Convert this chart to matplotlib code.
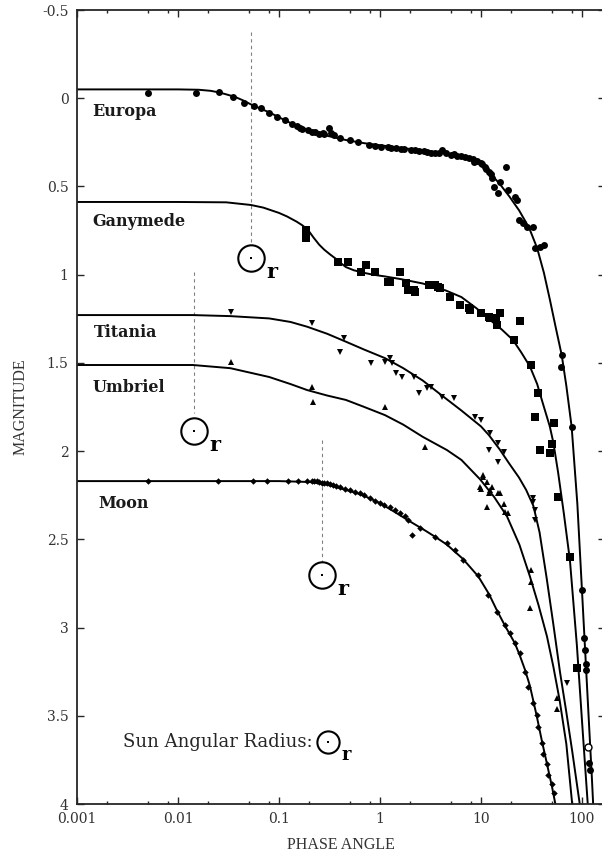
import matplotlib
matplotlib.use("Agg")
import matplotlib.pyplot as plt
from matplotlib.ticker import LogLocator, MultipleLocator, FuncFormatter, NullFormatter

plt.rcParams["axes.unicode_minus"] = False

# ---- fitted curves (phase angle, magnitude) ----
europa_fit_phase = [0.001, 0.01, 0.016, 0.021, 0.0255, 0.03, 0.0365, 0.044, 0.0527, 0.065, 0.08, 0.1,
                    0.135, 0.19, 0.25, 0.3, 0.46, 0.7, 1.12, 2.0, 2.65, 4.0, 6.4, 8.0, 9.0, 10.9, 12.3,
                    15.3, 19.0, 23.8, 30.0, 36.0, 42.0, 48.2, 55.0, 63.0, 70.0, 79.0, 90.0, 100.0,
                    105.0, 110.0, 115.0, 120.0, 125.0, 129.0]
europa_fit_mag = [-0.05, -0.05, -0.048, -0.042, -0.033, -0.022, -0.008, 0.012, 0.035, 0.058, 0.08, 0.108,
                  0.145, 0.178, 0.2, 0.213, 0.237, 0.255, 0.27, 0.288, 0.295, 0.31, 0.333, 0.348, 0.36,
                  0.39, 0.425, 0.485, 0.555, 0.635, 0.735, 0.85, 0.99, 1.144, 1.3, 1.456, 1.63, 1.862,
                  2.3, 2.79, 3.02, 3.24, 3.45, 3.65, 3.84, 4.0]

ganymede_fit_phase = [0.001, 0.01, 0.03, 0.0527, 0.07, 0.1, 0.12, 0.15, 0.17, 0.194, 0.22, 0.25, 0.28,
                      0.32, 0.358, 0.4, 0.46, 0.55, 0.7, 0.85, 1.12, 1.6, 2.65, 4.5, 6.4, 9.0, 12.3, 16.0,
                      20.7, 25.0, 30.5, 36.0, 41.0, 48.0, 52.0, 58.0, 66.0, 76.0, 89.0, 102.0, 115.0]
ganymede_fit_mag = [0.588, 0.588, 0.59, 0.605, 0.62, 0.65, 0.67, 0.70, 0.72, 0.747, 0.79, 0.83, 0.858,
                    0.885, 0.906, 0.93, 0.957, 0.975, 0.99, 1.0, 1.01, 1.025, 1.05, 1.09, 1.127, 1.19,
                    1.257, 1.31, 1.37, 1.44, 1.52, 1.62, 1.73, 1.86, 1.95, 2.12, 2.35, 2.62, 3.1, 3.6,
                    4.03]

titania_fit_phase = [0.001, 0.014, 0.033, 0.08, 0.13, 0.19, 0.3, 0.46, 0.7, 1.12, 1.7, 2.65, 4.0, 6.4,
                     8.0, 10.0, 12.0, 15.3, 19.0, 23.8, 28.0, 33.0, 38.0, 44.7, 52.0, 60.5, 70.0, 80.0,
                     95.0]
titania_fit_mag = [1.229, 1.229, 1.235, 1.248, 1.268, 1.295, 1.335, 1.38, 1.425, 1.473, 1.53, 1.6, 1.68,
                   1.77, 1.815, 1.86, 1.91, 1.99, 2.07, 2.15, 2.22, 2.31, 2.46, 2.72, 2.98, 3.25, 3.48,
                   3.7, 4.0]

umbriel_fit_phase = [0.001, 0.014, 0.033, 0.08, 0.13, 0.19, 0.3, 0.46, 0.7, 1.12, 1.7, 2.65, 4.6, 6.4,
                     9.8, 13.5, 18.1, 24.0, 30.5, 37.0, 45.0, 52.0, 60.0, 70.0, 80.0]
umbriel_fit_mag = [1.512, 1.512, 1.53, 1.58, 1.62, 1.654, 1.685, 1.71, 1.75, 1.796, 1.85, 1.919, 1.994,
                   2.05, 2.16, 2.26, 2.37, 2.53, 2.71, 2.87, 3.05, 3.22, 3.41, 3.66, 4.0]

moon_fit_phase = [0.001, 0.1, 0.2, 0.27, 0.35, 0.46, 0.6, 0.74, 1.0, 1.4, 2.0, 2.8, 3.5, 4.6, 6.6, 9.4,
                  12.0, 14.3, 17.3, 21.7, 24.3, 27.3, 30.5, 35.6, 40.0, 44.9, 50.4, 54.5]
moon_fit_mag = [2.17, 2.17, 2.175, 2.185, 2.2, 2.22, 2.24, 2.26, 2.295, 2.345, 2.40, 2.45, 2.485, 2.53,
                2.61, 2.71, 2.81, 2.9, 2.99, 3.09, 3.16, 3.24, 3.33, 3.5, 3.64, 3.77, 3.9, 4.0]

# ---- observations ----
europa_phase = [0.00505, 0.0151, 0.0255, 0.035, 0.045, 0.056, 0.067, 0.080, 0.095, 0.114, 0.136, 0.15,
                0.161, 0.17, 0.192, 0.21, 0.229, 0.25, 0.273, 0.28, 0.311, 0.326, 0.35, 0.406, 0.505,
                0.601, 0.782, 0.9, 1.02, 1.21, 1.3, 1.45, 1.6, 1.72, 2.05, 2.2, 2.44, 2.7, 2.91, 3.2,
                3.47, 3.8, 4.14, 4.52, 5.0, 5.38, 5.8, 6.41, 7.0, 7.64, 8.3, 8.6, 9.1, 9.95, 10.3, 10.9,
                11.3, 11.9, 12.6, 13.0, 13.5, 14.8, 15.4, 17.6, 18.4, 21.9, 22.9, 23.9, 26.1, 28.5, 32.5,
                34.0, 38.7, 42.3, 63.0, 62.6, 79.0, 99.3, 104.7, 106.9, 109.4, 110.0, 117.8, 119.0]
europa_mag = [-0.028, -0.028, -0.033, -0.008, 0.026, 0.044, 0.057, 0.086, 0.105, 0.124, 0.146, 0.16,
              0.171, 0.175, 0.180, 0.19, 0.190, 0.2, 0.199, 0.205, 0.171, 0.199, 0.21, 0.227, 0.237,
              0.246, 0.265, 0.27, 0.275, 0.279, 0.28, 0.284, 0.287, 0.290, 0.294, 0.296, 0.298, 0.3,
              0.303, 0.31, 0.309, 0.31, 0.294, 0.313, 0.32, 0.316, 0.325, 0.328, 0.335, 0.341, 0.345,
              0.36, 0.354, 0.369, 0.375, 0.388, 0.4, 0.417, 0.43, 0.45, 0.502, 0.539, 0.473, 0.388,
              0.520, 0.558, 0.577, 0.690, 0.709, 0.728, 0.728, 0.851, 0.842, 0.832, 1.456, 1.522,
              1.862, 2.788, 3.062, 3.128, 3.204, 3.24, 3.77, 3.81]
europa_open_phase = [115.6]
europa_open_mag = [3.676]

ganymede_phase = [0.184, 0.184, 0.388, 0.482, 0.656, 0.72, 0.891, 1.21, 1.26, 1.58, 1.80, 1.88, 1.96,
                  2.15, 2.24, 3.04, 3.47, 3.79, 3.9, 4.9, 6.14, 7.64, 7.8, 9.95, 11.9, 12.3, 14.1, 14.3,
                  15.4, 21.0, 24.5, 31.1, 34.0, 37.1, 38.7, 48.2, 51.0, 52.6, 58.2, 76.0, 88.5]
ganymede_mag = [0.747, 0.794, 0.927, 0.927, 0.983, 0.946, 0.983, 1.04, 1.04, 0.983, 1.049, 1.087, 1.087,
                1.087, 1.097, 1.059, 1.059, 1.068, 1.078, 1.125, 1.172, 1.191, 1.2, 1.219, 1.239, 1.248,
                1.248, 1.286, 1.219, 1.371, 1.26, 1.513, 1.806, 1.673, 1.994, 2.013, 1.96, 1.843,
                2.259, 2.599, 3.232]

titania_phase = [0.0334, 0.21, 0.443, 0.406, 0.818, 1.11, 1.26, 1.32, 1.45, 1.66, 2.15, 2.44, 2.91,
                 3.18, 4.14, 5.38, 8.73, 9.95, 12.4, 11.9, 14.8, 16.8, 14.8, 32.5, 34.0, 33.0, 34.4,
                 70.5]
titania_mag = [1.21, 1.276, 1.361, 1.437, 1.503, 1.494, 1.475, 1.503, 1.56, 1.579, 1.579, 1.673, 1.645,
               1.636, 1.692, 1.701, 1.806, 1.824, 1.90, 1.994, 1.956, 2.004, 2.06, 2.287, 2.334, 2.268,
               2.391, 3.317]

umbriel_phase = [0.0334, 0.21, 0.218, 1.11, 2.79, 10.4, 11.4, 9.95, 11.9, 13.0, 15.4, 11.4, 16.8, 18.4,
                 10.5, 9.8, 12.3, 14.8, 17.3, 31.1, 31.6, 30.5, 56.0, 56.0]
umbriel_mag = [1.494, 1.636, 1.72, 1.749, 1.976, 2.146, 2.174, 2.212, 2.24, 2.202, 2.24, 2.316, 2.297,
               2.353, 2.136, 2.202, 2.221, 2.24, 2.344, 2.675, 2.741, 2.892, 3.402, 3.459]

moon_phase = [0.00505, 0.0251, 0.0557, 0.0755, 0.124, 0.155, 0.188, 0.21, 0.22, 0.236, 0.25, 0.265, 0.28,
              0.297, 0.32, 0.346, 0.37, 0.40, 0.45, 0.505, 0.56, 0.634, 0.7, 0.80, 0.9, 1.0, 1.1, 1.26,
              1.4, 1.58, 1.75, 1.91, 2.06, 2.5, 3.5, 4.6, 5.5, 6.6, 9.4, 11.8, 14.3, 17.3, 19.3, 21.7,
              24.3, 27.3, 29.5, 33.0, 35.6, 36.9, 40.0, 41.5, 44.9, 46.6, 50.4, 52.3]
moon_mag = [2.17, 2.168, 2.168, 2.168, 2.168, 2.168, 2.17, 2.17, 2.172, 2.172, 2.176, 2.178, 2.18,
            2.183, 2.187, 2.193, 2.2, 2.206, 2.213, 2.221, 2.23, 2.24, 2.25, 2.268, 2.28, 2.293, 2.305,
            2.319, 2.335, 2.353, 2.37, 2.391, 2.476, 2.438, 2.486, 2.523, 2.561, 2.618, 2.703, 2.816,
            2.911, 2.986, 3.033, 3.09, 3.147, 3.251, 3.336, 3.43, 3.497, 3.563, 3.657, 3.714, 3.771,
            3.837, 3.884, 3.94]

# ---- labels and sun-radius markers ----
body_names = ["Europa", "Ganymede", "Titania", "Umbriel", "Moon"]
name_phase = [0.00141, 0.00141, 0.00147, 0.00141, 0.00161]
name_mag = [0.078, 0.70, 1.325, 1.637, 2.295]

sun_phase = [0.0527, 0.0144, 0.267]
sun_mag = [0.906, 1.887, 2.703]
guide_top = [-0.375, 0.985, 1.938]
guide_bottom = [0.832, 1.785, 2.63]
legend_phase = 0.305
legend_mag = 3.65

serif = "DejaVu Serif"

fig = plt.figure(figsize=(6.02, 8.61), dpi=100)
ax = fig.add_axes([77 / 602, 1 - 804 / 861, 528 / 602, 794 / 861])

# guide lines from the sun radius symbols
for x, y0, y1 in zip(sun_phase, guide_top, guide_bottom):
    ax.plot([x, x], [y0, y1], color="0.5", lw=0.8, dashes=(3, 3))

# fitted curves
for ph, mg in [(europa_fit_phase, europa_fit_mag), (ganymede_fit_phase, ganymede_fit_mag),
               (titania_fit_phase, titania_fit_mag), (umbriel_fit_phase, umbriel_fit_mag),
               (moon_fit_phase, moon_fit_mag)]:
    ax.plot(ph, mg, color="black", lw=1.4, solid_joinstyle="round")

# observations
ax.plot(europa_phase, europa_mag, "o", color="black", ms=5, mew=0)
ax.plot(europa_open_phase, europa_open_mag, "o", mfc="white", mec="black", ms=5, mew=1)
ax.plot(ganymede_phase, ganymede_mag, "s", color="black", ms=5.8, mew=0)
ax.plot(titania_phase, titania_mag, "v", color="black", ms=5, mew=0)
ax.plot(umbriel_phase, umbriel_mag, "^", color="black", ms=5, mew=0)
ax.plot(moon_phase, moon_mag, "D", color="black", ms=3.3, mew=0)

for name, x, y in zip(body_names, name_phase, name_mag):
    ax.text(x, y, name, fontsize=11.5, fontweight="bold", family=serif,
            ha="left", va="center", color="0.1")

# sun angular radius symbols
def sun_symbol(x, y, size=19, rsize=15, off=(15, -10)):
    ax.plot([x], [y], "o", mfc="none", mec="black", ms=size, mew=1.5)
    ax.plot([x], [y], "s", color="black", ms=1.8, mew=0)
    ax.annotate("r", (x, y), xytext=off, textcoords="offset points", fontsize=rsize,
                fontweight="bold", family=serif, ha="center", va="center")

for x, y in zip(sun_phase, sun_mag):
    sun_symbol(x, y)

sun_symbol(legend_phase, legend_mag, size=16, rsize=13, off=(13, -9))
ax.annotate("Sun Angular Radius:", (legend_phase, legend_mag), xytext=(-11, 0),
            textcoords="offset points", ha="right", va="center", fontsize=13,
            family=serif, color="0.15")

# axes
ax.set_xscale("log")
ax.set_xlim(0.001, 169)
ax.set_ylim(4, -0.5)
ax.xaxis.set_major_locator(LogLocator(base=10, numticks=10))
ax.xaxis.set_minor_locator(LogLocator(base=10, subs=(2, 5, 8), numticks=10))
ax.xaxis.set_minor_formatter(NullFormatter())
ax.xaxis.set_major_formatter(FuncFormatter(lambda v, p: "%g" % v))
ax.yaxis.set_major_locator(MultipleLocator(0.5))
ax.yaxis.set_major_formatter(FuncFormatter(lambda v, p: "%g" % v))

ax.tick_params(which="both", direction="in", top=True, right=True, color="0.15", width=1.0)
ax.tick_params(which="major", length=5, pad=6, labelsize=10, labelcolor="0.2")
ax.tick_params(which="minor", length=2.5)
for lab in ax.get_xticklabels() + ax.get_yticklabels():
    lab.set_family(serif)
for sp in ax.spines.values():
    sp.set_linewidth(1.3)
    sp.set_color("0.15")

ax.set_xlabel("PHASE ANGLE", family="Liberation Serif", fontsize=11.5, color="0.2", labelpad=8)
ax.set_ylabel("MAGNITUDE", family="Liberation Serif", fontsize=11.5, color="0.2", labelpad=10)

fig.savefig("out.png", dpi=100)
